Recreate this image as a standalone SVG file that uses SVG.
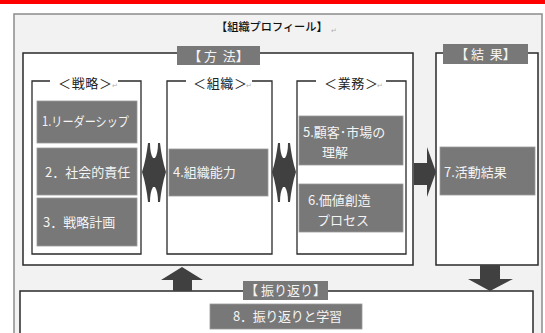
<svg xmlns="http://www.w3.org/2000/svg" width="545" height="333" viewBox="0 0 545 333">
<defs>
<style>
text{font-family:"Noto Sans CJK JP","Noto Sans",sans-serif;}
.box{fill:#fff;stroke:#2a2a2a;stroke-width:1.5;}
.sub{fill:none;stroke:#2a2a2a;stroke-width:1.3;}
.item{fill:#787878;stroke:#9a9a9a;stroke-width:0.8;}
.lbl{fill:#787878;}
.wt{fill:#f4f4f4;font-size:13px;}
.bt{fill:#222;font-size:13px;}
.mark{fill:#b0b0b0;font-size:7px;}
.arr{fill:#404040;}
</style>
<path id="dbl" d="M142,172 C145,163 147,152 148,143 L150,143 C150,150 151,155 153,158 L155,158 C157,155 158,150 158,143 L160,143 C161,152 163,163 166,172 C163,181 161,192 160,202 L158,202 C158,195 157,190 155,187 L153,187 C151,190 150,195 150,202 L148,202 C147,192 145,181 142,172 Z"/>
</defs>
<rect x="0" y="0" width="545" height="4" fill="#ff0000"/>
<g id="profile">
<rect x="14" y="14" width="528" height="330" fill="#f2f2f2" stroke="#8c8c8c" stroke-width="1.5"/>
<text x="216" y="31" font-size="11.2" font-weight="500" fill="#111">【組織プロフィール】</text>
<text x="331" y="33" class="mark">↵</text>
</g>
<g id="method">
<rect class="box" x="23" y="53" width="390" height="212"/>
<rect class="lbl" x="177" y="46" width="83" height="19"/>
<text x="218.5" y="60.5" class="wt" text-anchor="middle" xml:space="preserve">【 方  法】</text>
</g>
<g id="strategy">
<path class="sub" d="M50,81 H32 V254 H141 V81 H118"/>
<text x="58" y="87.5" class="bt" textLength="54">＜戦略＞</text>
<text x="112" y="88" class="mark">↵</text>
</g>
<g id="n1">
<rect class="item" x="37" y="101" width="100" height="42"/>
<text x="42" y="126" class="wt" font-size="12.5" textLength="87" lengthAdjust="spacingAndGlyphs">1.リーダーシップ</text>
</g>
<g id="n2">
<rect class="item" x="37" y="148" width="100" height="47"/>
<text x="45" y="176.5" class="wt">2．社会的責任</text>
</g>
<g id="n3">
<rect class="item" x="37" y="198" width="100" height="48"/>
<text x="43" y="226.5" class="wt">3．戦略計画</text>
</g>
<g id="organization">
<path class="sub" d="M186,81 H167 V254 H272 V81 H252"/>
<text x="193" y="87.5" class="bt" textLength="54">＜組織＞</text>
<text x="246" y="88" class="mark">↵</text>
</g>
<g id="n4">
<rect class="item" x="169" y="149" width="99" height="47"/>
<text x="173" y="176.5" class="wt" font-size="13.5">4.組織能力</text>
</g>
<g id="operations">
<path class="sub" d="M316,81 H297 V254 H406 V81 H386"/>
<text x="324" y="87.5" class="bt" textLength="54">＜業務＞</text>
<text x="377" y="88" class="mark">↵</text>
</g>
<g id="n5">
<rect class="item" x="299" y="116" width="104" height="49"/>
<text x="303" y="136.5" class="wt">5.顧客･市場の</text>
<text x="322" y="156.5" class="wt">理解</text>
</g>
<g id="n6">
<rect class="item" x="299" y="184" width="104" height="48"/>
<text x="308" y="204.5" class="wt">6.価値創造</text>
<text x="317" y="224.5" class="wt" font-size="12">プロセス</text>
</g>
<g id="result">
<rect class="box" x="436" y="53" width="102" height="212"/>
<rect class="lbl" x="443" y="44" width="85" height="20"/>
<text x="485.5" y="58.5" class="wt" text-anchor="middle" xml:space="preserve">【 結  果】</text>
</g>
<g id="n7">
<rect class="item" x="440" y="147" width="95" height="48"/>
<text x="444" y="176.5" class="wt">7.活動結果</text>
</g>
<g id="reflection">
<rect class="box" x="20" y="291" width="513" height="60"/>
<rect class="lbl" x="243" y="281" width="85" height="19"/>
<text x="285.5" y="295" class="wt" font-size="12.5" text-anchor="middle" xml:space="preserve">【 振り返り】</text>
</g>
<g id="n8">
<rect class="item" x="210" y="304" width="152" height="25"/>
<text x="233" y="321" class="wt" textLength="109">8．振り返りと学習</text>
</g>
<g id="connectors">
<use href="#dbl" class="arr"/>
<use href="#dbl" class="arr" transform="translate(130,0)"/>
<polygon class="arr" points="414,163 427,163 427,147 436,172 427,197 427,185 414,185"/>
<polygon class="arr" points="173,291 173,280 161,280 182,267 203,280 192,280 192,291"/>
<polygon class="arr" points="480,265 500,265 500,279 513,279 490,291 468,279 480,279"/>
</g>
</svg>
